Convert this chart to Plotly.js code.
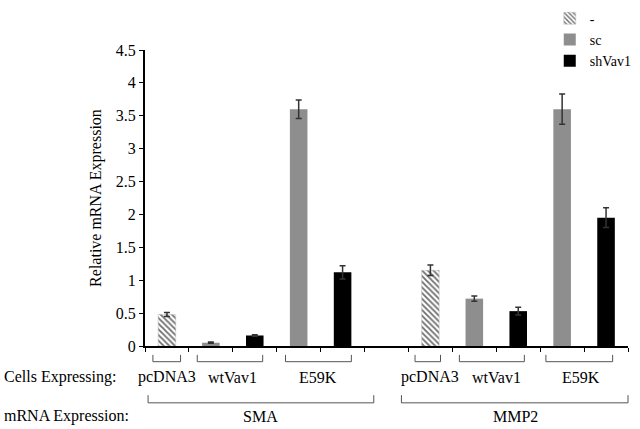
<!DOCTYPE html>
<html>
<head>
<meta charset="utf-8">
<script src="https://cdn.plot.ly/plotly-3.0.1.min.js"></script>
<style>html,body{margin:0;padding:0;background:#fff;}#chart{width:640px;height:429px;}</style>
</head>
<body>
<div id="chart"></div>
<script>
// Category slots (one empty spacer between SMA and MMP2 groups)
const categories = ["SMA pcDNA3", "SMA wtVav1 sc", "SMA wtVav1 shVav1", "SMA E59K sc", "SMA E59K shVav1", " ",
                    "MMP2 pcDNA3", "MMP2 wtVav1 sc", "MMP2 wtVav1 shVav1", "MMP2 E59K sc", "MMP2 E59K shVav1"];

// Series "-"
const dashX = ["SMA pcDNA3", "MMP2 pcDNA3"];
const dashY = [0.48, 1.15];
const dashErr = [0.03, 0.08];

// Series "sc"
const scX = ["SMA wtVav1 sc", "SMA E59K sc", "MMP2 wtVav1 sc", "MMP2 E59K sc"];
const scY = [0.05, 3.60, 0.72, 3.60];
const scErr = [0.01, 0.14, 0.04, 0.23];

// Series "shVav1"
const shX = ["SMA wtVav1 shVav1", "SMA E59K shVav1", "MMP2 wtVav1 shVav1", "MMP2 E59K shVav1"];
const shY = [0.16, 1.12, 0.53, 1.95];
const shErr = [0.01, 0.10, 0.06, 0.15];

const yTicks = [0, 0.5, 1, 1.5, 2, 2.5, 3, 3.5, 4, 4.5];
const yTickText = ["0", "0.5", "1", "1.5", "2", "2.5", "3", "3.5", "4", "4.5"];

// Bottom labels (positions in category-slot units)
const cellLabels = ["pcDNA3", "wtVav1", "E59K", "pcDNA3", "wtVav1", "E59K"];
const cellLabelPos = [0, 1.5, 3.45, 6, 7.5, 9.42];
const cellBrackets = [[-0.32, 0.31], [0.69, 2.18], [2.7, 4.2], [5.65, 6.23], [6.66, 8.14], [8.63, 10.15]];
const genes = ["SMA", "MMP2"];
const genePos = [2.14, 7.93];
const geneBrackets = [[-0.43, 4.71], [5.34, 10.5]];

const FONT = "Liberation Serif";
const nCat = categories.length;
const px = (u) => (u + 0.5) / nCat; // slot units -> paper x
const errStyle = (arr) => ({type: "data", array: arr, visible: true, color: "#333", thickness: 1.5, width: 3});

const traces = [
  {type: "bar", name: "-", x: dashX, y: dashY, width: 0.4, error_y: errStyle(dashErr),
   marker: {color: "#ffffff", line: {width: 0.5, color: "#bbb"},
            pattern: {shape: "\\", fgcolor: "#6e6e6e", bgcolor: "#ffffff", size: 4, solidity: 0.45}}},
  {type: "bar", name: "sc", x: scX, y: scY, width: 0.4, error_y: errStyle(scErr),
   marker: {color: "#8e8e8e", line: {width: 0}}},
  {type: "bar", name: "shVav1", x: shX, y: shY, width: 0.4, error_y: errStyle(shErr),
   marker: {color: "#000000", line: {width: 0}}}
];

const shapes = [];
const annotations = [];
const yb = -0.053, ybEnd = -0.03;
cellBrackets.forEach(b => {
  const a = px(b[0]), c = px(b[1]);
  shapes.push({type: "path", xref: "paper", yref: "paper",
    path: `M${a},${ybEnd} L${a},${yb} L${c},${yb} L${c},${ybEnd}`,
    line: {color: "#555", width: 1}});
});
const gb = -0.192, gbEnd = -0.166;
geneBrackets.forEach(b => {
  const a = px(b[0]), c = px(b[1]);
  shapes.push({type: "path", xref: "paper", yref: "paper",
    path: `M${a},${gbEnd} L${a},${gb} L${c},${gb} L${c},${gbEnd}`,
    line: {color: "#555", width: 1}});
});
cellLabels.forEach((t, i) => {
  annotations.push({text: t, x: px(cellLabelPos[i]), xref: "paper", y: -0.106, yref: "paper",
    showarrow: false, xanchor: "center", yanchor: "middle", font: {family: FONT, size: 16, color: "#000"}});
});
genes.forEach((t, i) => {
  annotations.push({text: t, x: px(genePos[i]), xref: "paper", y: -0.238, yref: "paper",
    showarrow: false, xanchor: "center", yanchor: "middle", font: {family: FONT, size: 16, color: "#000"}});
});
annotations.push({text: "Cells Expressing:", x: -0.296, xref: "paper", y: -0.106, yref: "paper",
  showarrow: false, xanchor: "left", yanchor: "middle", font: {family: FONT, size: 16, color: "#000"}});
annotations.push({text: "mRNA Expression:", x: -0.296, xref: "paper", y: -0.238, yref: "paper",
  showarrow: false, xanchor: "left", yanchor: "middle", font: {family: FONT, size: 16, color: "#000"}});

const layout = {
  width: 640, height: 429,
  margin: {l: 145, r: 3, t: 44, b: 83},
  paper_bgcolor: "#fff", plot_bgcolor: "#fff",
  font: {family: FONT, color: "#000"},
  barmode: "overlay",
  showlegend: true,
  legend: {x: 0.838, xanchor: "left", y: 1.16, yanchor: "top", bgcolor: "rgba(0,0,0,0)",
           font: {family: FONT, size: 14, color: "#000"}, tracegroupgap: 0, itemwidth: 30},
  xaxis: {type: "category", categoryorder: "array", categoryarray: categories,
          range: [-0.5, 10.5], showticklabels: false, tickson: "boundaries", ticks: "outside",
          ticklen: 4, tickcolor: "#000", tickwidth: 1, showline: true, linecolor: "#000", linewidth: 2,
          showgrid: false, zeroline: false, fixedrange: true},
  yaxis: {range: [0, 4.5], tickvals: yTicks, ticktext: yTickText, ticks: "outside", ticklen: 4,
          tickcolor: "#000", tickwidth: 1, showline: true, linecolor: "#000", linewidth: 2,
          showgrid: false, zeroline: false, tickfont: {family: FONT, size: 16, color: "#000"},
          title: {text: "Relative mRNA Expression", font: {family: FONT, size: 16, color: "#000"}, standoff: 10}},
  shapes: shapes,
  annotations: annotations
};

Plotly.newPlot("chart", traces, layout, {displayModeBar: false, staticPlot: true});
</script>
</body>
</html>
